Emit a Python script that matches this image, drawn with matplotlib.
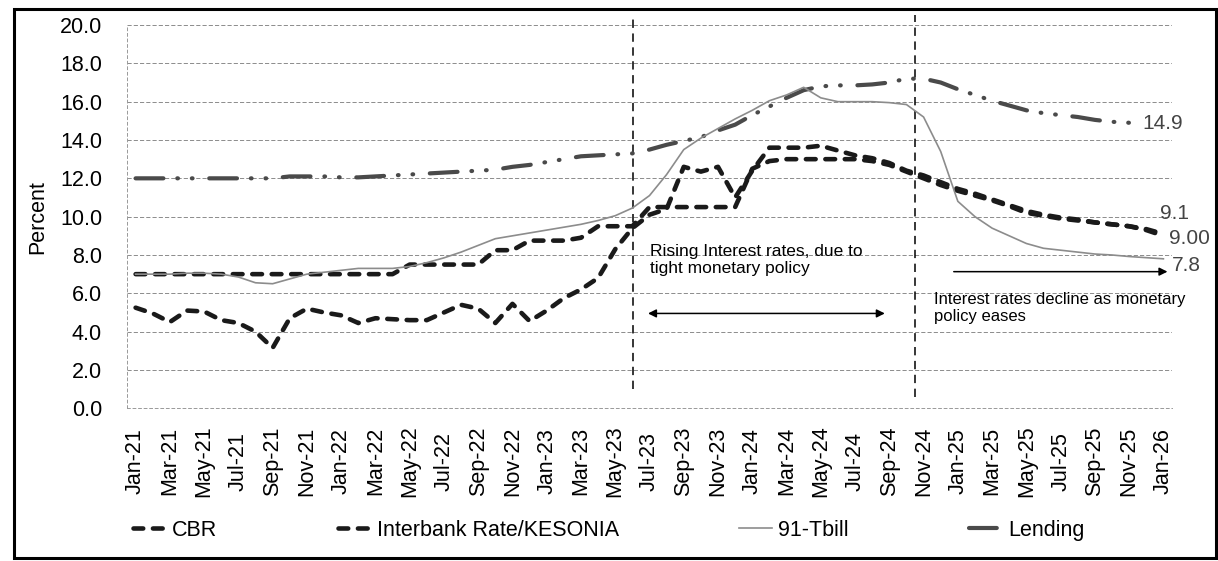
"""Kenya policy and market interest rates, Jan-21 to Jan-26 (CBR, interbank, 91-day T-bill, lending)."""

import matplotlib

matplotlib.use("Agg")

import matplotlib.pyplot as plt
import numpy as np
import pandas as pd

plt.rcParams["font.family"] = ["Liberation Sans", "DejaVu Sans"]
plt.rcParams["lines.scale_dashes"] = False

MONTHS = list(pd.date_range("2021-01-01", "2026-01-01", freq="MS").strftime("%b-%y"))

CBR = [
    7.0, 7.0, 7.0, 7.0, 7.0, 7.0, 7.0, 7.0, 7.0, 7.0, 7.0, 7.0, 7.0, 7.0, 7.0, 7.0,
    7.5, 7.5, 7.5, 7.5, 7.5, 8.25, 8.25, 8.75, 8.75, 8.75, 8.9, 9.5, 9.5, 9.5,
    10.5, 10.5, 10.5, 10.5, 10.5, 10.5, 12.5, 12.9, 13.0, 13.0, 13.0, 13.0, 13.0,
    12.9, 12.7, 12.35, 12.0, 11.65, 11.35, 11.1, 10.85, 10.55, 10.2, 10.05, 9.9,
    9.8, 9.7, 9.6, 9.5, 9.3, 9.0,
]
INTERBANK = [
    5.25, 4.95, 4.5, 5.1, 5.05, 4.6, 4.45, 4.0, 3.15, 4.7, 5.2, 5.0, 4.85, 4.45,
    4.7, 4.65, 4.6, 4.6, 5.0, 5.4, 5.2, 4.45, 5.45, 4.55, 5.1, 5.75, 6.2, 6.8,
    8.3, 9.4, 10.1, 10.4, 12.6, 12.35, 12.6, 11.0, 12.4, 13.6, 13.6, 13.6, 13.7,
    13.45, 13.2, 13.05, 12.8, 12.4, 12.15, 11.8, 11.45, 11.2, 10.9, 10.6, 10.3,
    10.1, 9.95, 9.85, 9.7, 9.6, 9.5, 9.35, 9.1,
]
TBILL = [
    7.0, 7.0, 7.0, 7.05, 7.05, 7.0, 6.85, 6.55, 6.5, 6.75, 7.0, 7.1, 7.2, 7.3,
    7.3, 7.3, 7.4, 7.6, 7.85, 8.15, 8.5, 8.85, 9.0, 9.15, 9.3, 9.45, 9.6, 9.8,
    10.05, 10.45, 11.1, 12.2, 13.5, 14.1, 14.6, 15.1, 15.55, 16.05, 16.35, 16.75,
    16.2, 16.0, 16.0, 16.0, 15.95, 15.85, 15.2, 13.4, 10.8, 10.0, 9.4, 9.0, 8.6,
    8.35, 8.25, 8.15, 8.05, 8.0, 7.92, 7.86, 7.8,
]
LENDING = [
    12.0, 12.0, 12.0, 12.0, 12.0, 12.0, 12.0, 12.0, 12.0, 12.1, 12.1, 12.1, 12.05,
    12.05, 12.1, 12.15, 12.2, 12.25, 12.3, 12.35, 12.4, 12.45, 12.6, 12.7, 12.85,
    13.0, 13.15, 13.2, 13.25, 13.3, 13.5, 13.75, 13.95, 14.15, 14.5, 14.8, 15.3,
    15.75, 16.2, 16.6, 16.8, 16.85, 16.85, 16.9, 17.0, 17.2, 17.2, 17.0, 16.65,
    16.35, 16.05, 15.8, 15.55, 15.4, 15.3, 15.2, 15.05, 14.95, 14.9,
]

END_LABELS = ["14.9", "9.1", "9.00", "7.8"]
RISING_NOTE = "Rising Interest rates, due to\ntight monetary policy"
EASING_NOTE = "Interest rates decline as monetary\npolicy eases"


def main() -> None:
    fig = plt.figure(figsize=(12.18, 5.61), dpi=100)
    ax = fig.add_axes([0.1043, 0.2722, 0.8579, 0.6832])
    x = np.arange(len(MONTHS))

    thick_dash = (0, (7.0, 7.0))
    ax.plot(x, CBR, color="#1a1a1a", lw=3.3, linestyle=thick_dash, dash_capstyle="round", label="CBR", zorder=4)
    ax.plot(x, INTERBANK, color="#1a1a1a", lw=3.3, linestyle=thick_dash, dash_capstyle="round",
            label="Interbank Rate/KESONIA", zorder=4)
    ax.plot(x, TBILL, color="#8c8c8c", lw=1.2, label="91-Tbill", zorder=5)
    ax.plot(x[: len(LENDING)], LENDING, color="#4a4a4a", lw=3.0,
            linestyle=(0, (20, 10, 0.5, 10, 0.5, 12)), dash_capstyle="round", label="Lending", zorder=3)

    ax.set_xlim(-0.5, len(MONTHS) - 0.5)
    ax.set_ylim(0, 20)
    ax.set_yticks(np.arange(0, 20.1, 2))
    ax.set_yticklabels([f"{v:.1f}" for v in np.arange(0, 20.1, 2)])
    ax.set_xticks(x[::2])
    ax.set_xticklabels(MONTHS[::2], rotation=90, va="center", ha="center")
    ax.tick_params(axis="x", length=0, pad=38, labelsize=15.5)
    ax.tick_params(axis="y", length=0, pad=18, labelsize=15.5)
    ax.set_ylabel("Percent", fontsize=15.5, labelpad=8)

    ax.grid(axis="y", color="#7a7a7a", lw=0.6, linestyle=(0, (3, 1.5)))
    for side in ("top", "right"):
        ax.spines[side].set_visible(False)
    for side in ("left", "bottom"):
        ax.spines[side].set_color("#999999")
        ax.spines[side].set_linewidth(0.7)
        ax.spines[side].set_linestyle((0, (2, 2)))

    # phase dividers
    for xv, y0 in ((29.05, 1.0), (45.5, 0.6)):
        ax.plot([xv, xv], [y0, 20.5], color="black", lw=1.1, linestyle=(0, (6, 4)), clip_on=False, zorder=2)

    ax.text(30.05, 7.75, RISING_NOTE, fontsize=12.5, va="center", ha="left", linespacing=1.2)
    ax.annotate("", xy=(43.9, 4.95), xytext=(29.75, 4.95),
                arrowprops=dict(arrowstyle="<|-|>", color="black", lw=1.1, mutation_scale=12))
    ax.text(46.6, 5.25, EASING_NOTE, fontsize=12, va="center", ha="left", linespacing=1.15)
    ax.annotate("", xy=(60.4, 7.13), xytext=(47.6, 7.13),
                arrowprops=dict(arrowstyle="-|>", color="black", lw=1.1, mutation_scale=12), annotation_clip=False)

    # end-of-series values
    for xv, yv, txt in zip((58.8, 59.8, 60.3, 60.5), (14.87, 10.17, 8.87, 7.47), END_LABELS):
        ax.text(xv, yv, txt, fontsize=15, color="#444444", va="center", ha="left", clip_on=False)

    fig.legend(loc="center", bbox_to_anchor=(0.5, 0.055), ncol=4, frameon=False, fontsize=15.5,
               handlelength=1.5, handletextpad=0.3, columnspacing=5.6)

    fig.add_artist(plt.Rectangle((0.0115, 0.0053), 0.9869, 0.9795, transform=fig.transFigure,
                                 fill=False, lw=2.2, ec="black"))
    fig.savefig("out.png", dpi=100)
    plt.close(fig)


if __name__ == "__main__":
    main()
